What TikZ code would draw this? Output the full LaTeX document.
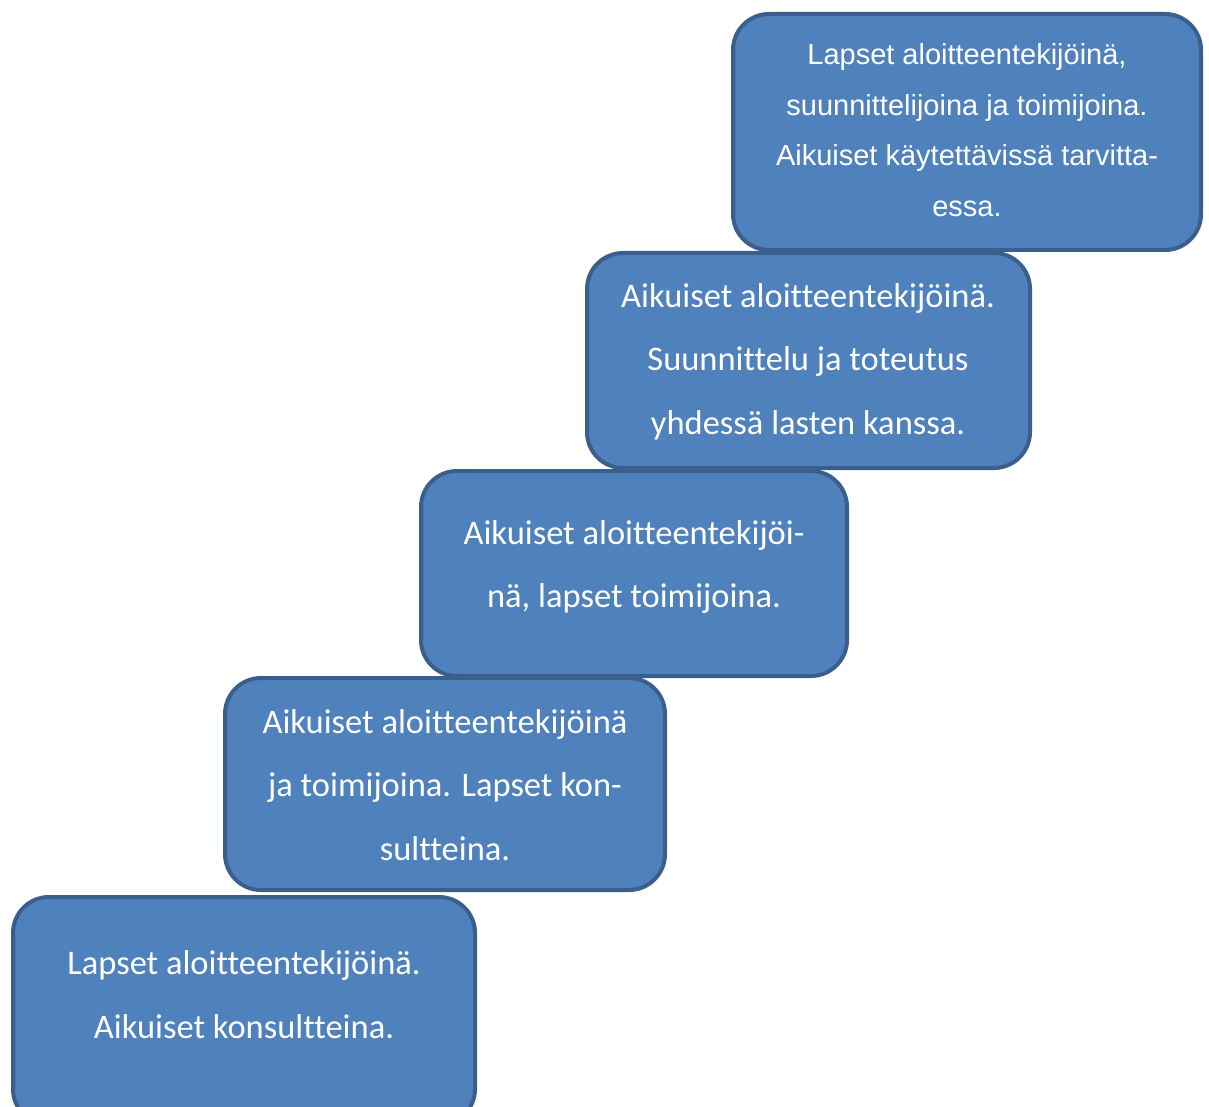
\documentclass[tikz,border=0pt]{standalone}
\usepackage{fontspec}
\setmainfont[Ligatures={NoCommon}]{Carlito}
\newfontfamily\arialf{Liberation Sans}
\definecolor{boxfill}{HTML}{4F81BD}
\definecolor{boxline}{HTML}{3B5F8C}
\begin{document}
\begin{tikzpicture}[x=1pt,y=-1pt,
  stepbox/.style={draw=boxline, line width=4pt, fill=boxfill, rounded corners=36pt},
  cal/.style={text=white, align=center, font=\fontsize{34.5}{63.5}\selectfont, inner sep=0pt},
  ari/.style={text=white, align=center, font=\arialf\fontsize{29}{50.5}\selectfont, inner sep=0pt}]
\useasboundingbox (0,0) rectangle (1209,1107);
\begin{scope}
\clip (0,0) rectangle (1209,1107);
\draw[stepbox] (733,14) rectangle (1201,250);
\coordinate (b1) at (967,132);
\draw[stepbox] (587,253) rectangle (1030,468);
\coordinate (b2) at (808,360);
\draw[stepbox] (421,471) rectangle (847,676);
\coordinate (b3) at (634,573);
\draw[stepbox] (225,678) rectangle (665,890);
\coordinate (b4) at (445,784);
\draw[stepbox] (13,897) rectangle (475,1125);
\coordinate (b5) at (244,1010);
\end{scope}
\node[ari] (t1) at (967,130) {Lapset aloitteentekijöinä,\\suunnittelijoina ja toimijoina.\\Aikuiset käytettävissä tarvitta-\\essa.};
\node[cal] (t2) at (808,361.5) {Aikuiset aloitteentekijöinä.\\Suunnittelu ja toteutus\\yhdessä lasten kanssa.};
\node[cal] (t3) at (634,567) {Aikuiset aloitteentekijöi-\\nä, lapset toimijoina.};
\node[cal] (t4) at (445,785) {Aikuiset aloitteentekijöinä\\ja toimijoina. Lapset kon-\\sultteina.};
\node[cal] (t5) at (244,994.5) {Lapset aloitteentekijöinä.\\Aikuiset konsultteina.};
\end{tikzpicture}
\end{document}
